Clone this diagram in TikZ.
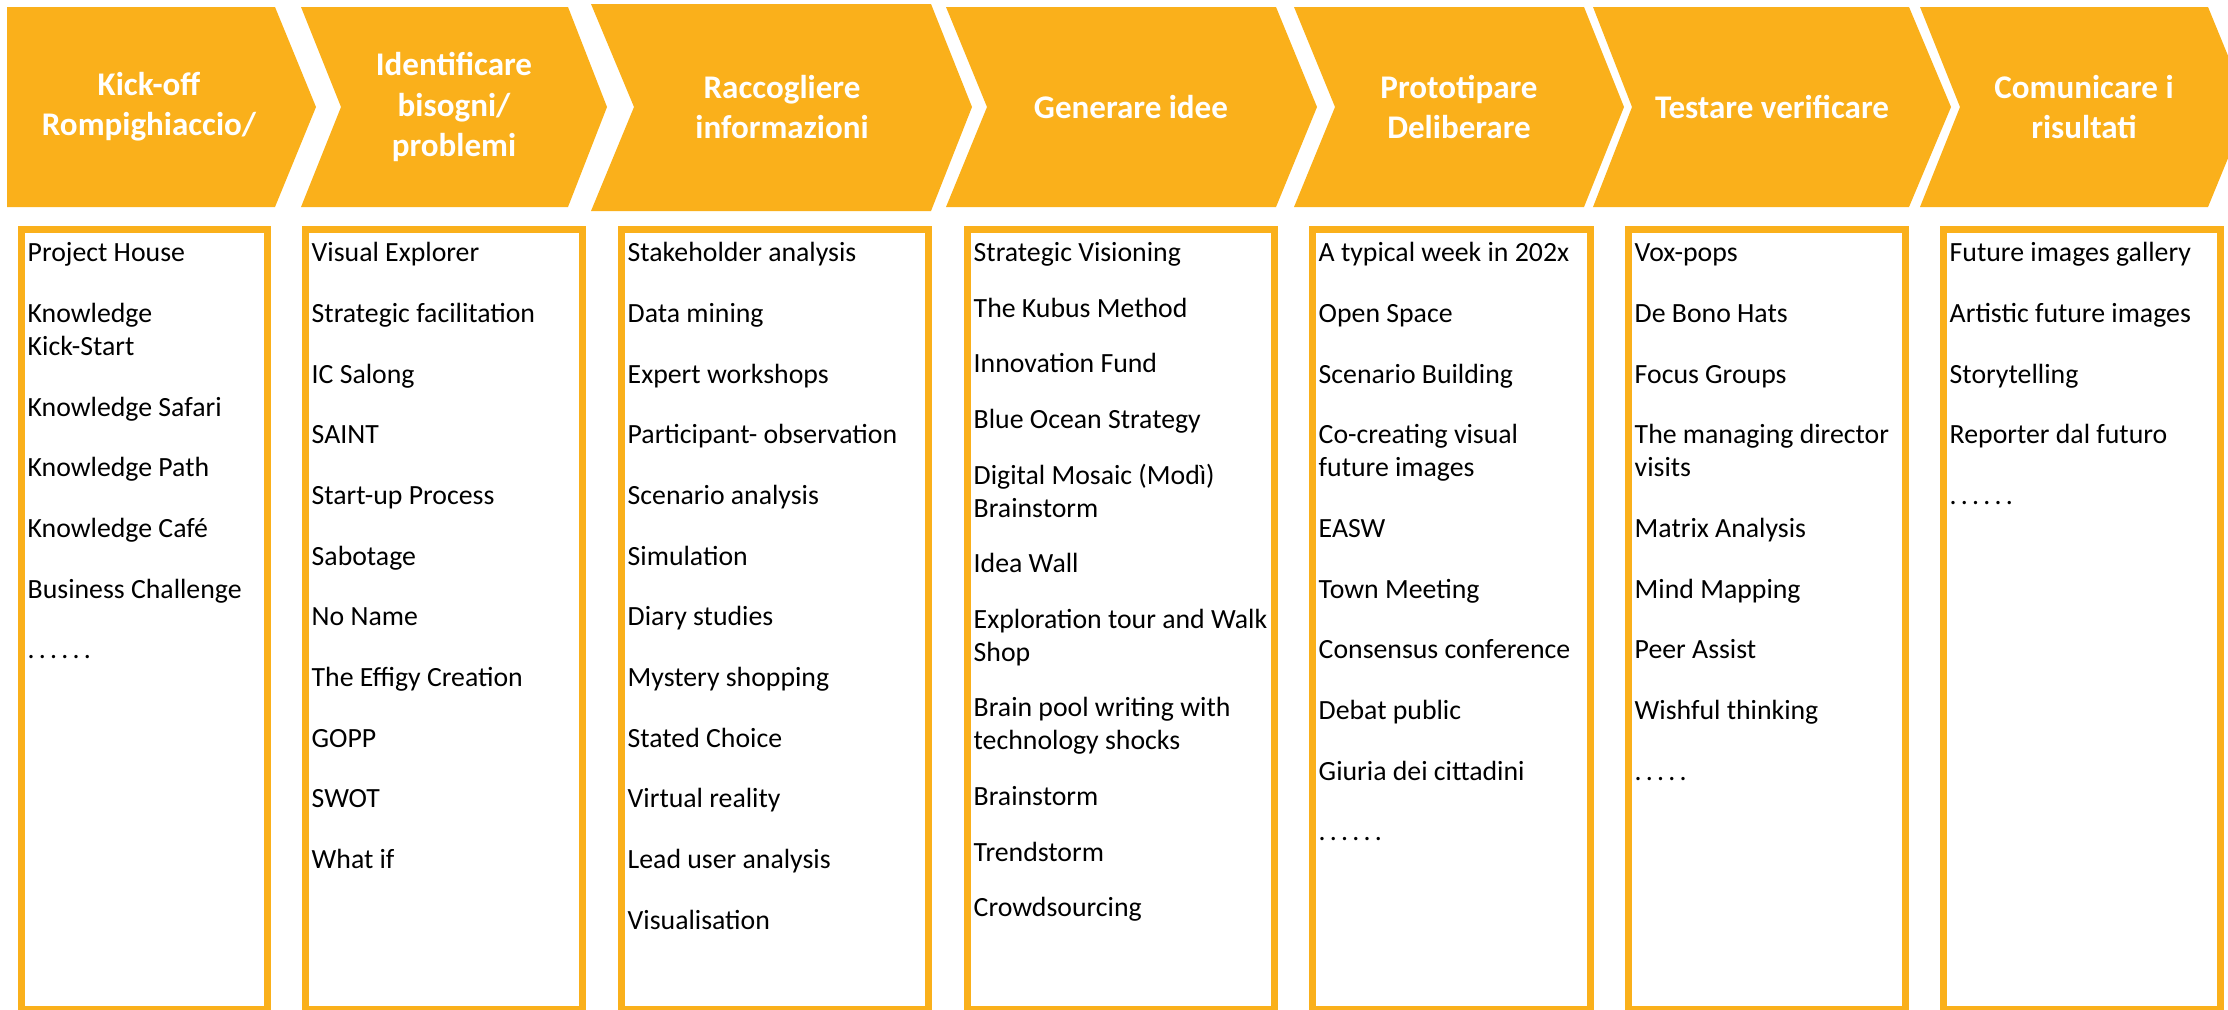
\documentclass[tikz,border=0pt]{standalone}
\usepackage{fontspec}
\setmainfont{Carlito}
\definecolor{phaseorange}{RGB}{250,176,27}
\newcommand{\nx}{\\[7.85pt]}
\newcommand{\nxs}{\\[6.4pt]}
\newcommand{\dd}{.\kern1.2pt}
\tikzset{
  phase/.style={fill=phaseorange},
  phasetitle/.style={text=white, align=center, inner sep=0pt,
    font=\bfseries\fontsize{9.4}{11.4}\selectfont},
  listframe/.style={draw=phaseorange, line width=2pt},
  methods/.style={anchor=north west, inner sep=0pt, align=left,
    font=\fontsize{7.9}{9.4}\selectfont},
}
\begin{document}
\begin{tikzpicture}[x=0.01cm, y=-0.01cm]
  \useasboundingbox (0,0) rectangle (2228,1009);
  % phases
  \fill[phase] (7,7) -- (275,7) -- (316,107) -- (275,207) -- (7,207) -- cycle;
  \fill[phase] (301,7) -- (568,7) -- (607,107) -- (568,207) -- (301,207) -- (341,107) -- cycle;
  \fill[phase] (591,4) -- (931,4) -- (972,107) -- (931,211) -- (591,211) -- (634,107) -- cycle;
  \fill[phase] (946,7) -- (1276,7) -- (1317,107) -- (1276,207) -- (946,207) -- (987,107) -- cycle;
  \fill[phase] (1294,7) -- (1584,7) -- (1624,107) -- (1584,207) -- (1294,207) -- (1335,107) -- cycle;
  \fill[phase] (1593,7) -- (1909,7) -- (1951,107) -- (1909,207) -- (1593,207) -- (1632,107) -- cycle;
  \fill[phase] (1920,7) -- (2208,7) -- (2249,107) -- (2208,207) -- (1920,207) -- (1960,107) -- cycle;
  \draw
    (149,107) node[phasetitle] (t1) {Kick-off\\Rompighiaccio/}
    (454,107) node[phasetitle] (t2) {Identificare\\bisogni/\\problemi}
    (782,107) node[phasetitle] (t3) {Raccogliere\\informazioni}
    (1131,107) node[phasetitle] (t4) {Generare idee}
    (1459,107) node[phasetitle] (t5) {Prototipare\\Deliberare}
    (1772,107) node[phasetitle] (t6) {Testare verificare}
    (2084,107) node[phasetitle] (t7) {Comunicare i\\risultati};
  % frames
  \draw[listframe] (21.5,229.5) rectangle (267.5,1009.5);
  \draw[listframe] (305.5,229.5) rectangle (582.5,1009.5);
  \draw[listframe] (621.5,229.5) rectangle (928.5,1009.5);
  \draw[listframe] (967.5,229.5) rectangle (1274.5,1009.5);
  \draw[listframe] (1312.5,229.5) rectangle (1590.5,1009.5);
  \draw[listframe] (1628.5,229.5) rectangle (1905.5,1009.5);
  \draw[listframe] (1943.5,229.5) rectangle (2220.5,1009.5);
  % methods
  \node[methods] (l1) at (27,238) {\strut Project House\nx Knowledge\\Kick-Start\nx
    Knowledge Safari\nx Knowledge Path\nx Knowledge Café\nx
    Business Challenge\nx \dd\dd\dd\dd\dd.};
  \node[methods] (l2) at (311,238) {\strut Visual Explorer\nx Strategic facilitation\nx
    IC Salong\nx SAINT\nx Start-up Process\nx Sabotage\nx No Name\nx
    The Effigy Creation\nx GOPP\nx SWOT\nx What if};
  \node[methods] (l3) at (627,238) {\strut Stakeholder analysis\nx Data mining\nx
    Expert workshops\nx Participant- observation\nx Scenario analysis\nx
    Simulation\nx Diary studies\nx Mystery shopping\nx Stated Choice\nx
    Virtual reality\nx Lead user analysis\nx Visualisation};
  \node[methods] (l4) at (973,238) {\strut Strategic Visioning\nxs The Kubus Method\nxs
    Innovation Fund\nxs Blue Ocean Strategy\nxs Digital Mosaic (Modì)\\Brainstorm\nxs
    Idea Wall\nxs Exploration tour and Walk\\Shop\nxs
    Brain pool writing with\\technology shocks\nxs Brainstorm\nxs
    Trendstorm\nxs Crowdsourcing};
  \node[methods] (l5) at (1318,238) {\strut A typical week in 202x\nx Open Space\nx
    Scenario Building\nx Co-creating visual\\future images\nx EASW\nx
    Town Meeting\nx Consensus conference\nx Debat public\nx
    Giuria dei cittadini\nx \dd\dd\dd\dd\dd.};
  \node[methods] (l6) at (1634,238) {\strut Vox-pops\nx De Bono Hats\nx Focus Groups\nx
    The managing director\\visits\nx Matrix Analysis\nx Mind Mapping\nx
    Peer Assist\nx Wishful thinking\nx \dd\dd\dd\dd.};
  \node[methods] (l7) at (1949,238) {\strut Future images gallery\nx
    Artistic future images\nx Storytelling\nx Reporter dal futuro\nx \dd\dd\dd\dd\dd.};
\end{tikzpicture}
\end{document}
